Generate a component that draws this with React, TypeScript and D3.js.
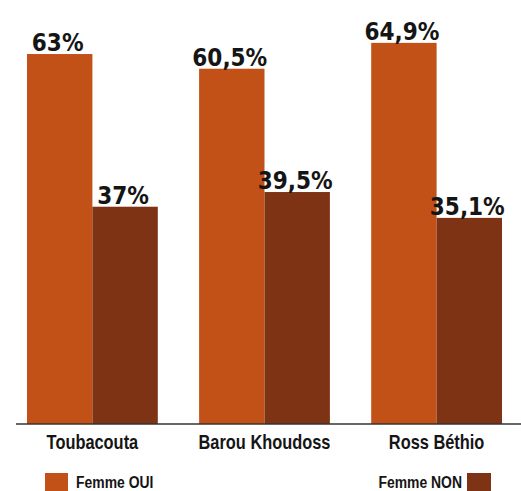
import React from "react";
import * as d3 from "d3";

const categories = ["Toubacouta", "Barou Khoudoss", "Ross Béthio"];
const seriesNames = ["Femme OUI", "Femme NON"];
const oui = [63, 60.5, 64.9];
const non = [37, 39.5, 35.1];
const colors = ["#C25118", "#7E3314"];

const W = 521;
const H = 491;

const fmt = (v: number) => String(v).replace(".", ",") + "%";

export default function App() {
  const x0 = d3.scaleBand<string>().domain(categories).range([27, 502]).paddingInner(0.24).paddingOuter(0);
  const x1 = d3.scaleBand<string>().domain(seriesNames).range([0, x0.bandwidth()]).padding(0);
  const y = d3.scaleLinear().domain([0, 72.2]).range([424, 0]);
  const series = [oui, non];
  const valueFont = "'DejaVu Sans Condensed', 'DejaVu Sans', sans-serif";
  const labelFont = "'Liberation Sans', Arial, sans-serif";
  const narrow = 0.82;

  return (
    <svg width={W} height={H} style={{ position: "absolute", left: 0, top: 0, background: "#fff" }}>
      {categories.map((c, i) => (
        <g key={c} transform={`translate(${x0(c)},0)`}>
          {seriesNames.map((s, j) => {
            const v = series[j][i];
            const bx = x1(s)!;
            const bw = x1.bandwidth();
            return (
              <g key={s}>
                <rect x={bx} y={y(v)} width={bw} height={y(0) - y(v)} fill={colors[j]} />
                <text
                  x={bx + bw / 2 - 2}
                  y={y(v) - 3}
                  textAnchor="middle"
                  fontFamily={valueFont}
                  fontWeight="bold"
                  fontStretch="condensed"
                  fontSize={24}
                  fill="#151515"
                >
                  {fmt(v)}
                </text>
              </g>
            );
          })}
          <text
            transform={`translate(${x0.bandwidth() / 2},449) scale(${narrow},1)`}
            textAnchor="middle"
            fontFamily={labelFont}
            fontWeight="bold"
            fontSize={20}
            fill="#151515"
          >
            {c}
          </text>
        </g>
      ))}
      <line x1={16} x2={521} y1={y(0)} y2={y(0)} stroke="#333" strokeWidth={1.5} />
      <rect x={45} y={473} width={23} height={20} fill={colors[0]} />
      <text
        transform={`translate(76,488) scale(${narrow},1)`}
        fontFamily={labelFont}
        fontWeight="bold"
        fontSize={17}
        fill="#151515"
      >
        {seriesNames[0]}
      </text>
      <text
        transform={`translate(462,488) scale(${narrow},1)`}
        textAnchor="end"
        fontFamily={labelFont}
        fontWeight="bold"
        fontSize={17}
        fill="#151515"
      >
        {seriesNames[1]}
      </text>
      <rect x={467} y={473} width={24} height={20} fill={colors[1]} />
    </svg>
  );
}
